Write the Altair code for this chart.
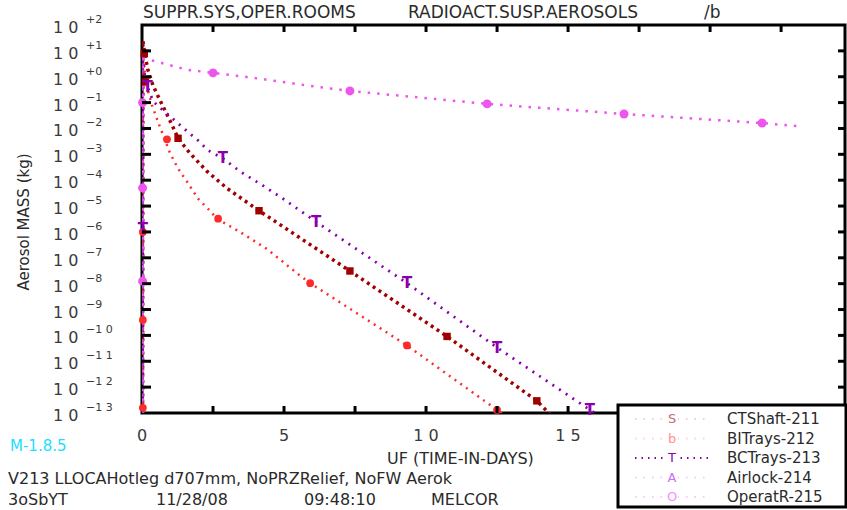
import altair as alt
import pandas as pd

# ---------------- data (y given as log10 of mass in kg) ----------------
series_names = ["CTShaft-211", "BITrays-212", "BCTrays-213", "Airlock-214", "OperatR-215"]

ct_t = [0.02, 0.03, 0.08, 0.2, 0.39, 0.63, 1.06, 1.27, 1.69, 2.29, 3.0, 4.12, 7.32, 10.74, 13.9, 14.5]
ct_L = [-14, 1.4, 1.0, 0.3, -0.35, -0.9, -1.87, -2.38, -2.96, -3.66, -4.32, -5.18, -7.51, -10.04, -12.53, -13.2]

bi_t = [0.02, 0.03, 0.08, 0.2, 0.35, 0.6, 0.81, 0.99, 1.27, 1.58, 1.97, 2.39, 2.64, 3.45, 4.4, 5.46, 5.92, 9.33, 12.5, 13.2]
bi_L = [-14, 1.1, 0.3, -0.5, -1.1, -1.85, -2.45, -2.96, -3.55, -4.05, -4.71, -5.18, -5.49, -6.0, -6.66, -7.6, -7.98, -10.39, -12.88, -13.4]

bc_t = [0.02, 0.03, 0.1, 0.2, 0.39, 0.74, 1.06, 1.58, 1.97, 2.32, 2.85, 3.45, 4.26, 4.96, 6.13, 9.33, 12.5, 15.77, 16.2]
bc_L = [-14, 0.8, 0.0, -0.4, -0.95, -1.3, -1.6, -2.1, -2.46, -2.84, -3.16, -3.66, -4.21, -4.71, -5.61, -7.98, -10.47, -12.88, -13.2]

al_t = [0.01, 0.015, 0.03, 0.04]
al_L = [-14, 0.8, -3.0, -14]

op_t = [0.02, 0.03, 0.14, 0.39, 1.58, 2.5, 3.9, 5.9, 7.32, 12.15, 16.97, 21.83, 23.06]
op_L = [-14, 0.7, 0.7, 0.62, 0.27, 0.15, -0.04, -0.35, -0.55, -1.05, -1.44, -1.79, -1.91]

# markers along the curves
ct_mt = [0.08, 0.12, 1.27, 4.12, 7.32, 10.74, 13.9]
ct_mL = [0.9, -0.2, -2.38, -5.18, -7.51, -10.04, -12.53]
bi_mt = [0.03, 0.03, 0.03, 0.88, 2.68, 5.92, 9.33, 12.5]
bi_mL = [-6.0, -9.4, -12.8, -2.42, -5.49, -7.98, -10.39, -12.88]
bc_mt = [0.2, 0.03, 2.85, 6.13, 9.33, 12.5, 15.77]
bc_mL = [-0.4, -5.9, -3.16, -5.61, -7.98, -10.47, -12.88]
op_mt = [0.02, 0.02, 0.02, 2.5, 7.32, 12.15, 16.97, 21.83]
op_mL = [-1.0, -4.3, -7.9, 0.15, -0.55, -1.05, -1.44, -1.79]

x_ticks = [2.5, 5, 7.5, 10, 12.5, 15, 17.5, 20, 22.5]
x_labels_v = [0, 5, 10, 15]
x_labels_t = ["0", "5", "1 0", "1 5"]
y_exps = list(range(2, -14, -1))
y_exp_text = ["+2", "+1", "+0", "−1", "−2", "−3", "−4", "−5", "−6", "−7", "−8", "−9", "−1 0", "−1 1", "−1 2", "−1 3"]

title_parts = ["SUPPR.SYS,OPER.ROOMS", "RADIOACT.SUSP.AEROSOLS", "/b"]
y_title = "Aerosol MASS (kg)"
x_title = "UF (TIME-IN-DAYS)"
version_text = "M-1.8.5"
run_text = "V213 LLOCAHotleg d707mm, NoPRZRelief, NoFW Aerok"
footer_parts = ["3oSbYT", "11/28/08", "09:48:10", "MELCOR"]
legend_letters = ["S", "b", "T", "A", "O"]

# ---------------- styling / layout (pixel positions of text pieces) ----------------
W, H = 703, 388
L0 = 142  # left padding
FONT = "DejaVu Sans"
TXT = "#2a2a2a"
line_col = {"CTShaft-211": "#a00000", "BITrays-212": "#ff2a2a", "BCTrays-213": "#8a00aa",
            "Airlock-214": "#b040d8", "OperatR-215": "#ee55ee"}
legend_dot = ["#f0d0d0", "#ffd0d0", "#8a00aa", "#ecd0f8", "#f8c8f8"]
legend_let = ["#c07070", "#ff9090", "#8a00aa", "#c870f0", "#f090f8"]
title_x = [143, 408, 704]
footer_x = [8, 156, 304, 431]

xs = alt.Scale(domain=[0, 24.75], nice=False, zero=False)
ys = alt.Scale(type="log", domain=[1e-13, 1e2], nice=False)


def frame(t, L):
    return pd.DataFrame({"t": t, "v": [10.0 ** l for l in L], "i": list(range(len(t)))})


def X(f="t"):
    return alt.X(f + ":Q", scale=xs, axis=None)


def Y(f="v"):
    return alt.Y(f + ":Q", scale=ys, axis=None)


layers = []
line_specs = [
    ("CTShaft-211", ct_t, ct_L, [3, 4], 3.5),
    ("BITrays-212", bi_t, bi_L, [2, 5], 2.5),
    ("BCTrays-213", bc_t, bc_L, [2, 6], 2.8),
    ("Airlock-214", al_t, al_L, [2, 4], 2.5),
    ("OperatR-215", op_t, op_L, [2.5, 7], 2.5),
]
for name, t, L, dash, w in line_specs:
    layers.append(
        alt.Chart(frame(t, L)).mark_line(color=line_col[name], strokeDash=dash, strokeWidth=w, clip=True)
        .encode(x=X(), y=Y(), order="i:Q")
    )

layers.append(alt.Chart(frame(ct_mt, ct_mL)).mark_point(shape="square", filled=True, size=55, opacity=1,
                                                          color=line_col["CTShaft-211"]).encode(x=X(), y=Y()))
layers.append(alt.Chart(frame(bi_mt, bi_mL)).mark_point(shape="circle", filled=True, size=60, opacity=1,
                                                          color=line_col["BITrays-212"]).encode(x=X(), y=Y()))
layers.append(alt.Chart(frame(bc_mt, bc_mL)).mark_text(text="T", font=FONT, fontWeight="bold", fontSize=15,
                                                         color=line_col["BCTrays-213"], baseline="middle")
              .encode(x=X(), y=Y()))
layers.append(alt.Chart(frame(op_mt, op_mL)).mark_point(shape="circle", filled=True, size=80, opacity=1,
                                                          color=line_col["OperatR-215"]).encode(x=X(), y=Y()))

# ---------------- inward ticks ----------------
xt = pd.DataFrame({"t": x_ticks})
layers.append(alt.Chart(xt).mark_rule(color="black", strokeWidth=3)
              .encode(x=X(), y=alt.value(H), y2=alt.value(H - 7)))
layers.append(alt.Chart(xt).mark_rule(color="black", strokeWidth=3)
              .encode(x=X(), y=alt.value(0), y2=alt.value(7)))
yt = pd.DataFrame({"v": [10.0 ** e for e in range(1, -13, -1)]})
layers.append(alt.Chart(yt).mark_rule(color="black", strokeWidth=3)
              .encode(y=Y(), x=alt.value(0), x2=alt.value(9)))
layers.append(alt.Chart(yt).mark_rule(color="black", strokeWidth=3)
              .encode(y=Y(), x=alt.value(W), x2=alt.value(W - 7)))

# ---------------- tick labels ----------------
ylab = pd.DataFrame({"v": [10.0 ** e for e in y_exps], "b": ["1 0"] * len(y_exps), "e": y_exp_text})
layers.append(alt.Chart(ylab).mark_text(font=FONT, fontSize=16, color="#3a3a3a", align="left", baseline="middle", dy=3)
              .encode(y=Y(), x=alt.value(53 - L0), text="b:N"))
layers.append(alt.Chart(ylab).mark_text(font=FONT, fontSize=11, color="#3a3a3a", align="left", baseline="middle", dy=-5)
              .encode(y=Y(), x=alt.value(86 - L0), text="e:N"))
xlab = pd.DataFrame({"t": x_labels_v, "s": x_labels_t})
layers.append(alt.Chart(xlab).mark_text(font=FONT, fontSize=16, color="#3a3a3a", align="center", baseline="middle")
              .encode(x=X(), y=alt.value(H + 23), text="s:N"))


def txt(s, x, y, size=16, color=TXT, align="left", angle=None):
    kw = dict(font=FONT, fontSize=size, color=color, align=align, baseline="middle")
    if angle is not None:
        kw["angle"] = angle
    return alt.Chart(pd.DataFrame({"s": [s]})).mark_text(**kw).encode(
        x=alt.value(x), y=alt.value(y), text="s:N")


for s, x0 in zip(title_parts, title_x):
    layers.append(txt(s, x0 - L0, -12, size=17))
layers.append(txt(y_title, 24 - L0, 197, size=15, align="center", angle=270))

# ---------------- legend box ----------------
layers.append(alt.Chart(pd.DataFrame({"a": [0]})).mark_rect(fill="white", stroke="black", strokeWidth=3)
              .encode(x=alt.value(476), x2=alt.value(W + 1), y=alt.value(H - 8), y2=alt.value(H + 94)))
for k, name in enumerate(series_names):
    ry = H + 6 + k * 19.5
    dash = [1.5, 5] if k == 2 else [1.5, 7]
    layers.append(alt.Chart(pd.DataFrame({"a": [0]})).mark_rule(color=legend_dot[k], strokeWidth=2, strokeDash=dash)
                  .encode(x=alt.value(493), x2=alt.value(568), y=alt.value(ry)))
    layers.append(alt.Chart(pd.DataFrame({"a": [0]})).mark_rule(color="white", strokeWidth=6)
                  .encode(x=alt.value(524), x2=alt.value(536), y=alt.value(ry)))
    layers.append(txt(legend_letters[k], 530, ry, size=13, color=legend_let[k], align="center"))
    layers.append(txt(name, 585, ry, size=15))

layers.append(txt(x_title, 387 - L0, H + 46, size=16))
layers.append(txt(version_text, 10 - L0, H + 33, size=15, color="#22ddff"))
layers.append(txt(run_text, 8 - L0, H + 66, size=16))
for s, x0 in zip(footer_parts, footer_x):
    layers.append(txt(s, x0 - L0, H + 87, size=16))

chart = alt.layer(*layers).properties(
    width=W, height=H,
    padding={"left": L0, "top": 25, "right": 2, "bottom": 97},
    autosize=alt.AutoSizeParams(type="none"),
    background="white",
).configure_view(stroke="black", strokeWidth=3)

chart.save("out.html", embed_options={"renderer": "svg", "actions": False})
